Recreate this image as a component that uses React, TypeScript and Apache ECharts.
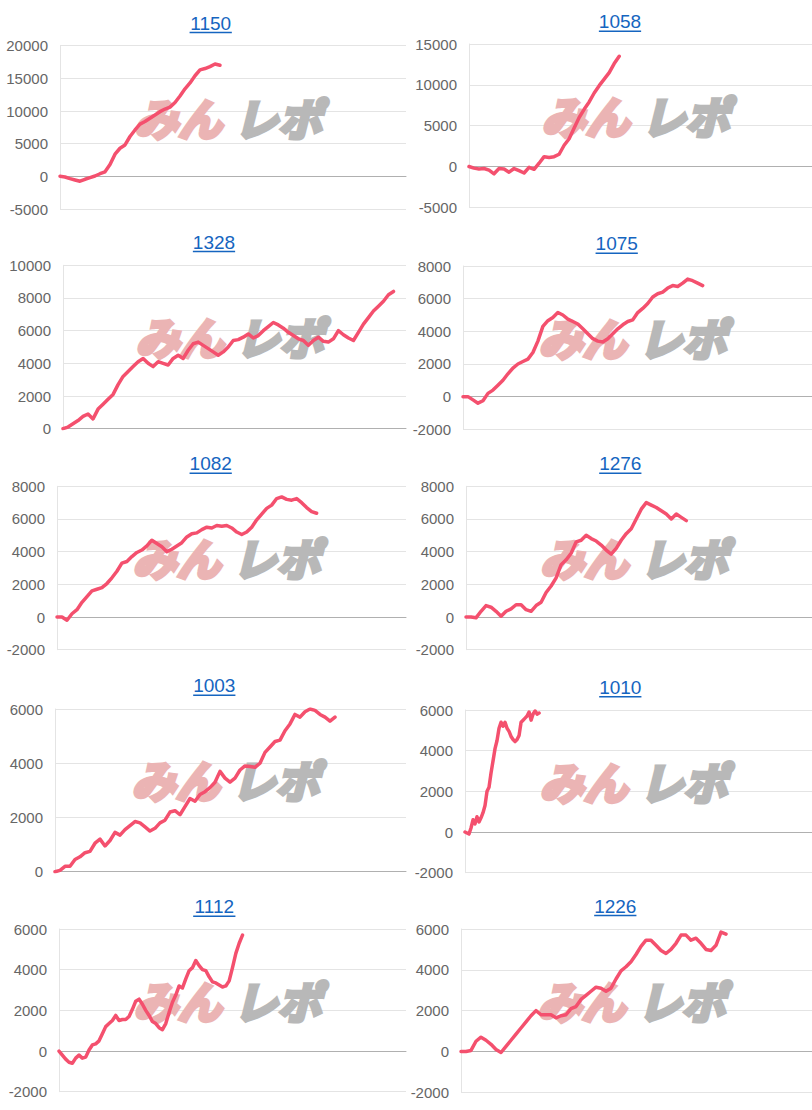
import React, { useEffect, useRef } from "react";
import * as echarts from "echarts";

const titles = ["1150", "1058", "1328", "1075", "1082", "1276", "1003", "1010", "1112", "1226"];

const v1150 = [0, -100, -350, -550, -750, -450, -200, 50, 400, 700, 1800, 3400, 4300, 4800, 6100, 7100, 8000, 8400, 8900, 9400, 9900, 10300, 10600, 11300, 12300, 13400, 14300, 15400, 16300, 16500, 16800, 17200, 17000];
const v1058 = [0, -200, -300, -250, -450, -900, -250, -300, -700, -250, -500, -800, -100, -350, 400, 1200, 1100, 1200, 1500, 2600, 3400, 4700, 6000, 7000, 7900, 9000, 9900, 10700, 11500, 12600, 13500];
const v1328 = [0, 100, 300, 500, 750, 900, 600, 1200, 1500, 1800, 2100, 2700, 3200, 3500, 3800, 4100, 4300, 4000, 3800, 4100, 4000, 3900, 4300, 4500, 4300, 4800, 5200, 5300, 5100, 4900, 4700, 4500, 4700, 5000, 5400, 5450, 5600, 5800, 5550, 5700, 6000, 6250, 6500, 6350, 6150, 5900, 5700, 5500, 5400, 5100, 5400, 5600, 5350, 5300, 5500, 6000, 5750, 5550, 5400, 5900, 6400, 6800, 7200, 7500, 7800, 8200, 8400];
const v1075 = [0, 0, -200, -400, -250, 200, 400, 700, 1000, 1400, 1750, 2000, 2150, 2300, 2700, 3400, 4300, 4650, 4850, 5150, 5000, 4750, 4600, 4450, 4150, 3850, 3550, 3400, 3350, 3550, 3850, 4150, 4400, 4600, 4700, 5150, 5400, 5700, 6100, 6300, 6400, 6650, 6800, 6750, 6950, 7200, 7100, 6950, 6800];
const v1082 = [0, 0, -200, 200, 450, 900, 1250, 1600, 1700, 1800, 2050, 2400, 2800, 3300, 3400, 3700, 3950, 4100, 4350, 4700, 4500, 4300, 4000, 4150, 4350, 4550, 4900, 5100, 5150, 5350, 5500, 5450, 5600, 5550, 5600, 5450, 5200, 5050, 5200, 5500, 5950, 6300, 6650, 6850, 7250, 7350, 7200, 7150, 7250, 7000, 6700, 6450, 6350];
const v1276 = [0, 0, -50, 350, 700, 600, 350, 50, 350, 500, 750, 750, 450, 350, 700, 900, 1500, 1900, 2400, 3200, 3500, 3900, 4600, 4700, 5000, 4800, 4650, 4400, 4100, 3850, 4200, 4700, 5100, 5400, 6000, 6600, 7000, 6850, 6700, 6500, 6300, 6000, 6300, 6100, 5900];
const v1003 = [0, 50, 200, 200, 450, 550, 700, 750, 1050, 1200, 950, 1150, 1450, 1350, 1550, 1700, 1850, 1800, 1650, 1500, 1600, 1800, 1900, 2200, 2250, 2100, 2400, 2700, 2600, 2850, 2950, 3100, 3300, 3700, 3450, 3300, 3450, 3750, 3900, 3880, 3850, 4000, 4400, 4600, 4800, 4850, 5200, 5450, 5800, 5700, 5900, 6000, 5950, 5800, 5700, 5550, 5700];
const v1010 = [0, -50, -100, 200, 600, 400, 750, 500, 700, 950, 1300, 2000, 2200, 2900, 3500, 4100, 4500, 5100, 5400, 5200, 5400, 5100, 4950, 4700, 4550, 4450, 4550, 4750, 5400, 5500, 5600, 5700, 5900, 5500, 5800, 5950, 5800, 5850];
const v1112 = [0, -200, -400, -550, -600, -350, -200, -350, -300, 50, 300, 350, 500, 850, 1200, 1350, 1500, 1750, 1500, 1550, 1550, 1700, 2050, 2450, 2550, 2300, 2000, 1750, 1450, 1350, 1150, 1050, 1350, 1900, 2400, 2750, 3200, 3100, 3550, 3950, 4100, 4450, 4200, 4000, 3950, 3650, 3400, 3350, 3250, 3150, 3200, 3450, 4100, 4800, 5300, 5700];
const v1226 = [0, 0, 50, 500, 700, 550, 350, 100, -50, 250, 550, 850, 1150, 1450, 1750, 2000, 1800, 1800, 1800, 1650, 1750, 1800, 2100, 2200, 2550, 2750, 2950, 3150, 3100, 2950, 3100, 3550, 3950, 4150, 4400, 4750, 5150, 5450, 5450, 5200, 4950, 4800, 5000, 5300, 5700, 5700, 5450, 5550, 5300, 5000, 4950, 5200, 5850, 5750];

const seriesValues = [v1150, v1058, v1328, v1075, v1082, v1276, v1003, v1010, v1112, v1226];
const xMaxes = [69.2, 68.5, 68.5, 69.9, 69.9, 69.1, 70.2, 173.3, 104, 70.2];
const yMins = [-5000, -5000, 0, -2000, -2000, -2000, 0, -2000, -2000, -2000];
const yMaxs = [20000, 15000, 10000, 8000, 8000, 8000, 6000, 6000, 6000, 6000];
const yIntervals = [5000, 5000, 2000, 2000, 2000, 2000, 2000, 2000, 2000, 2000];

// [plotLeft, plotTop, plotBottom, plotRight, titleCenterX, titleCenterY]
const layout = [
  [60, 45.7, 209, 406, 210.7, 23],
  [469, 44, 207.3, 812, 620, 21.7],
  [63, 265.3, 428.7, 406, 214, 242],
  [463, 266, 429.3, 812, 616.7, 243.7],
  [57, 486.3, 649.7, 406, 210.7, 463.7],
  [466, 486.3, 649.7, 812, 620.3, 463.7],
  [55, 709, 871.7, 406, 214.3, 685.7],
  [465, 710, 872.7, 812, 620.3, 687.3],
  [59, 929, 1091.7, 406, 214.3, 906.7],
  [461, 929, 1092.3, 812, 615.3, 906],
];

const LINE_COLOR = "#f4506e";
const TITLE_COLOR = "#1565c0";
const FONT = '"Liberation Sans", Arial, sans-serif';
const WM_FONT = '"Noto Sans CJK JP", sans-serif';

export default function App() {
  const ref = useRef<HTMLDivElement>(null);
  useEffect(() => {
    if (!ref.current) return;
    const chart = echarts.init(ref.current, null, { renderer: "svg" });
    const grid: any[] = [];
    const xAxis: any[] = [];
    const yAxis: any[] = [];
    const series: any[] = [];
    const graphic: any[] = [];
    titles.forEach((t, i) => {
      const [l, tp, b, r, tx, ty] = layout[i];
      grid.push({ left: l, top: tp, width: r - l, height: b - tp, containLabel: false });
      xAxis.push({
        gridIndex: i,
        type: "value",
        min: 0,
        max: xMaxes[i],
        axisLabel: { show: false },
        axisTick: { show: false },
        splitLine: { show: false },
        axisLine: { show: true, onZero: true, lineStyle: { color: "#b0b0b0", width: 1 } },
      });
      yAxis.push({
        gridIndex: i,
        type: "value",
        min: yMins[i],
        max: yMaxs[i],
        interval: yIntervals[i],
        axisLine: { show: true, lineStyle: { color: "#e4e4e4" } },
        axisTick: { show: false },
        splitLine: { show: true, lineStyle: { color: "#e4e4e4", width: 1 } },
        axisLabel: {
          fontSize: 15,
          color: "#666666",
          margin: 12,
          fontFamily: FONT,
          formatter: (v: number) => String(v),
        },
      });
      series.push({
        type: "line",
        xAxisIndex: i,
        yAxisIndex: i,
        data: seriesValues[i].map((v, k) => [k, v]),
        showSymbol: false,
        symbol: "none",
        lineStyle: { color: LINE_COLOR, width: 3.5, join: "round", cap: "round" },
        itemStyle: { color: LINE_COLOR },
        z: 3,
      });
      const tw = t.length * 0.556 * 19;
      graphic.push({
        type: "text",
        x: tx,
        y: ty,
        style: {
          text: t,
          fill: TITLE_COLOR,
          fontSize: 19,
          fontFamily: FONT,
          align: "center",
          verticalAlign: "middle",
        },
        z: 5,
      });
      graphic.push({
        type: "line",
        shape: { x1: tx - tw / 2, y1: ty + 9.5, x2: tx + tw / 2, y2: ty + 9.5 },
        style: { stroke: TITLE_COLOR, lineWidth: 1.4 },
        z: 5,
      });
      const cx = (l + r) / 2 - 1;
      const cy = ty + 93.5;
      graphic.push({
        type: "text",
        x: cx - 10,
        y: cy,
        style: {
          text: "みん",
          fill: "#ebb4b4",
          stroke: "#ebb4b4",
          lineWidth: 4,
          fontSize: 44,
          fontWeight: "bold",
          fontStyle: "italic",
          fontFamily: WM_FONT,
          align: "right",
          verticalAlign: "middle",
        },
        z: 1,
      });
      graphic.push({
        type: "text",
        x: cx + 2,
        y: cy,
        style: {
          text: "レポ",
          fill: "#b8b8b8",
          stroke: "#b8b8b8",
          lineWidth: 4,
          fontSize: 44,
          fontWeight: "bold",
          fontStyle: "italic",
          fontFamily: WM_FONT,
          align: "left",
          verticalAlign: "middle",
        },
        z: 1,
      });
    });
    chart.setOption({
      animation: false,
      backgroundColor: "#ffffff",
      grid,
      xAxis,
      yAxis,
      series,
      graphic,
    });
    return () => chart.dispose();
  }, []);
  return (
    <div
      ref={ref}
      style={{ position: "absolute", left: 0, top: 0, width: 812, height: 1110 }}
    />
  );
}
